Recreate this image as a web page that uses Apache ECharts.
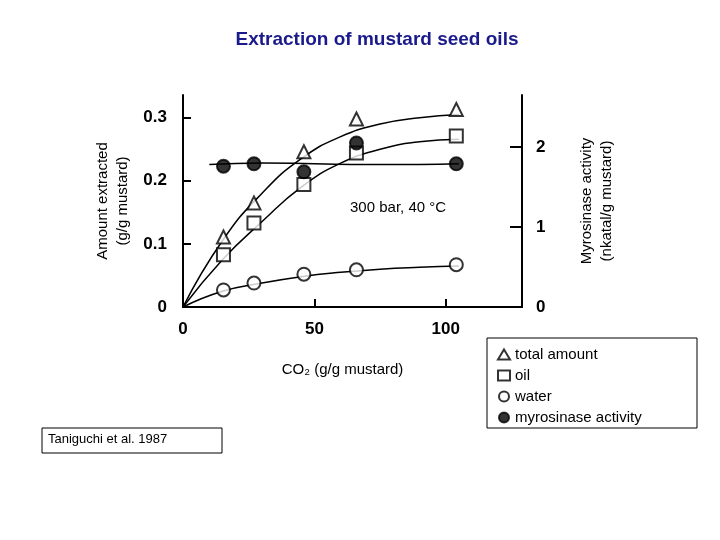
<!DOCTYPE html><html><head><meta charset="utf-8"><script src="https://cdn.jsdelivr.net/npm/echarts@6/dist/echarts.min.js"></script></head><body style="margin:0"><div id="c" style="width:720px;height:540px"></div><script>
const xs=[15.4,27,46,66,104];
const total=[0.111,0.165,0.246,0.298,0.313];
const oil=[0.083,0.133,0.194,0.244,0.271];
const water=[0.027,0.038,0.052,0.059,0.067];
const myro=[1.76,1.79,1.69,2.05,1.79];
const curveX=[0,15,30,45,60,75,90,105];
const totalCurve=[0,0.105,0.18,0.235,0.27,0.29,0.30,0.305];
const oilCurve=[0,0.075,0.135,0.19,0.228,0.25,0.262,0.266];
const waterCurve=[0,0.025,0.038,0.048,0.055,0.06,0.063,0.065];
const myroCurveX=[10,30,50,70,90,105];
const myroCurve=[1.78,1.80,1.79,1.78,1.78,1.79];
const xTicks=[0,50,100];
const pts=a=>xs.map((x,i)=>[x,a[i]]);
const crv=(X,a)=>X.map((x,i)=>[x,a[i]]);
const lineS=(d,ax)=>({type:'line',data:d,yAxisIndex:ax||0,smooth:true,showSymbol:false,lineStyle:{color:'#000',width:1.5},silent:true,z:1});
const sc=(name,d,sym,fill,ax,z)=>({name,type:'scatter',data:d,yAxisIndex:ax||0,symbol:sym,symbolSize:13,itemStyle:{color:fill,borderColor:'#000',borderWidth:2},z:z||3});
const f='Liberation Sans';
const ch=echarts.init(document.getElementById('c'));
ch.setOption({
title:{text:'Extraction of mustard seed oils',left:372,top:25,textAlign:'center',textStyle:{color:'#1a1a8c',fontSize:19,fontWeight:'bold',fontFamily:f}},
grid:{left:183,top:95,right:198,bottom:233},
legend:{orient:'vertical',left:492,top:342,itemWidth:12,itemHeight:10,itemGap:6,data:['total amount','oil','water','myrosinase activity'],textStyle:{fontSize:15,fontFamily:f,color:'#000'}},
xAxis:{type:'value',min:0,max:129,interval:50,axisLine:{lineStyle:{color:'#000',width:2}},axisTick:{inside:true,length:8,lineStyle:{width:2}},splitLine:{show:false},axisLabel:{showMaxLabel:false,fontSize:17,fontWeight:'bold',color:'#000',margin:14,formatter:v=>xTicks.includes(v)?v:''},
 name:'CO₂ (g/g mustard)',nameLocation:'middle',nameGap:55,nameTextStyle:{fontSize:15,fontFamily:f,color:'#000',padding:[0,20,0,0]}},
yAxis:[{type:'value',min:0,max:0.336,interval:0.1,axisLine:{show:true,lineStyle:{color:'#000',width:2}},axisTick:{inside:true,length:8,lineStyle:{width:2}},splitLine:{show:false},axisLabel:{showMaxLabel:false,fontSize:17,fontWeight:'bold',color:'#000',margin:16,formatter:v=>v==0?'0':v.toFixed(1)},
 name:'Amount extracted\n(g/g mustard)',nameLocation:'middle',nameGap:50,nameTextStyle:{fontSize:15,fontFamily:f,color:'#000',lineHeight:20}},
{type:'value',min:0,max:2.65,interval:1,position:'right',axisLine:{show:true,lineStyle:{color:'#000',width:2}},axisTick:{inside:true,length:12,lineStyle:{width:2}},splitLine:{show:false},axisLabel:{showMaxLabel:false,fontSize:17,fontWeight:'bold',color:'#000',margin:14},
 name:'Myrosinase activity\n(nkatal/g mustard)',nameLocation:'middle',nameGap:55,nameRotate:90,nameTextStyle:{fontSize:15,fontFamily:f,color:'#000',lineHeight:20}}],
series:[lineS(crv(curveX,totalCurve)),lineS(crv(curveX,oilCurve)),lineS(crv(curveX,waterCurve)),lineS(crv(myroCurveX,myroCurve),1),
sc('total amount',pts(total),'triangle','#fff'),sc('oil',pts(oil),'rect','#fff'),sc('water',pts(water),'circle','#fff'),sc('myrosinase activity',pts(myro),'circle','#000',1,5)],
graphic:[{type:'rect',shape:{x:487,y:338,width:210,height:90},style:{fill:'none',stroke:'#000',lineWidth:1}},
{type:'rect',shape:{x:42,y:428,width:180,height:25},style:{fill:'none',stroke:'#000',lineWidth:1}},
{type:'text',x:48,y:433,style:{text:'Taniguchi et al. 1987',fontSize:13,fontFamily:f,fill:'#000'}},
{type:'text',x:350,y:200,style:{text:'300 bar, 40 °C',fontSize:15,fontFamily:f,fill:'#000'}}]
});
</script></body></html>
